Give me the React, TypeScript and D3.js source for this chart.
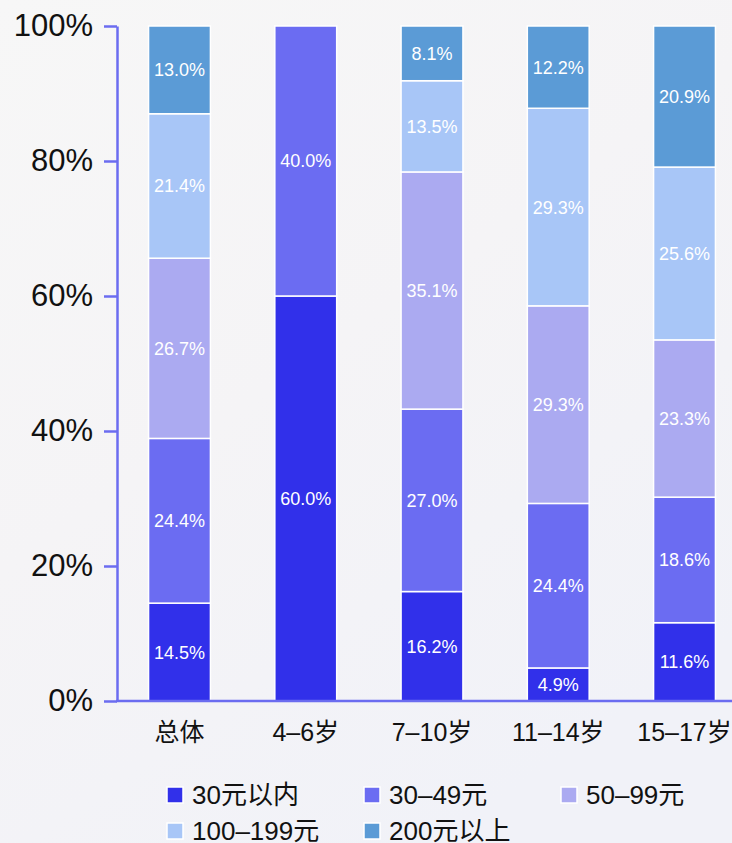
import React, { useEffect, useRef } from 'react';
import * as d3 from 'd3';

const categories = ['总体', '4–6岁', '7–10岁', '11–14岁', '15–17岁'];
const seriesNames = ['30元以内', '30–49元', '50–99元', '100–199元', '200元以上'];
const colors = ['#3130ea', '#6b6cf2', '#abaaf1', '#a8c6f7', '#5b9bd6'];

// one array per price band, in category order
const under30 = [14.5, 60.0, 16.2, 4.9, 11.6];
const from30to49 = [24.4, 40.0, 27.0, 24.4, 18.6];
const from50to99 = [26.7, 0, 35.1, 29.3, 23.3];
const from100to199 = [21.4, 0, 13.5, 29.3, 25.6];
const over200 = [13.0, 0, 8.1, 12.2, 20.9];

const yTicks = [0, 0.2, 0.4, 0.6, 0.8, 1];

const W = 732;
const H = 843;
const FONT = '"Liberation Sans", "Noto Sans CJK SC", sans-serif';

const App: React.FC = () => {
  const svgRef = useRef<SVGSVGElement>(null);

  useEffect(() => {
    const svg = d3.select(svgRef.current);
    svg.selectAll('*').remove();

    const seriesValues = [under30, from30to49, from50to99, from100to199, over200];
    const rows = categories.map((c, i) => {
      const r: any = { cat: c };
      seriesNames.forEach((s, j) => (r[s] = seriesValues[j][i]));
      return r;
    });

    const stacked = d3.stack<any>().keys(seriesNames).offset(d3.stackOffsetExpand)(rows);

    const x = d3.scaleBand().domain(categories).range([117, 747]).paddingInner(0.51).paddingOuter(0.25);
    const y = d3.scaleLinear().domain([0, 1]).range([701, 26]);

    // background
    const defs = svg.append('defs');
    const grad = defs.append('linearGradient').attr('id', 'bg').attr('x1', 0).attr('y1', 0).attr('x2', 0.6).attr('y2', 1);
    grad.append('stop').attr('offset', '0%').attr('stop-color', '#f7f7f7');
    grad.append('stop').attr('offset', '50%').attr('stop-color', '#f5f4f6');
    grad.append('stop').attr('offset', '100%').attr('stop-color', '#f1f2f8');
    svg.append('rect').attr('width', W).attr('height', H).attr('fill', 'url(#bg)');

    // bars
    const layer = svg.append('g');
    stacked.forEach((s, j) => {
      const g = layer.append('g');
      s.forEach((d, i) => {
        const v = seriesValues[j][i];
        if (!v) return;
        const x0 = x(categories[i])!;
        const yTop = y(d[1]);
        const yBot = y(d[0]);
        g.append('rect')
          .attr('x', x0)
          .attr('y', yTop)
          .attr('width', x.bandwidth())
          .attr('height', yBot - yTop)
          .attr('fill', colors[j])
          .attr('stroke', '#ffffff')
          .attr('stroke-width', 1.5);
        g.append('text')
          .attr('x', x0 + x.bandwidth() / 2)
          .attr('y', (yTop + yBot) / 2)
          .attr('dy', '0.36em')
          .attr('text-anchor', 'middle')
          .attr('fill', '#ffffff')
          .attr('font-family', FONT)
          .attr('font-size', 18)
          .text(v.toFixed(1) + '%');
      });
    });

    // y axis
    const yAxis = svg.append('g')
      .attr('transform', 'translate(117,0)')
      .call(d3.axisLeft(y).tickValues(yTicks).tickSize(13).tickSizeOuter(0).tickPadding(11).tickFormat(d3.format('.0%')));
    yAxis.selectAll('.domain, .tick line').attr('stroke', '#6b6cf0').attr('stroke-width', 2.5);
    yAxis.selectAll('text').attr('fill', '#111').attr('font-size', 31).attr('font-family', FONT);

    // x axis
    const xAxis = svg.append('g')
      .attr('transform', 'translate(0,701)')
      .call(d3.axisBottom(x).tickSize(0).tickPadding(22));
    xAxis.select('.domain').attr('d', 'M116,0H732').attr('stroke', '#6b6cf0').attr('stroke-width', 2.5);
    xAxis.selectAll('text').attr('fill', '#111').attr('font-size', 25).attr('font-family', FONT);

    // legend
    const legend = svg.append('g');
    seriesNames.forEach((s, j) => {
      const col = j % 3;
      const row = Math.floor(j / 3);
      const lx = 167 + col * 197;
      const ly = 795 + row * 36;
      legend.append('rect')
        .attr('x', lx)
        .attr('y', ly - 8)
        .attr('width', 16)
        .attr('height', 16)
        .attr('fill', colors[j])
        .attr('stroke', '#fff')
        .attr('stroke-width', 1.5);
      legend.append('text')
        .attr('x', lx + 25)
        .attr('y', ly)
        .attr('dy', '0.36em')
        .attr('fill', '#111')
        .attr('font-family', FONT)
        .attr('font-size', 26)
        .text(s);
    });
  }, []);

  return (
    <div style={{ position: 'fixed', left: 0, top: 0, width: W, height: H }}>
      <svg ref={svgRef} width={W} height={H}></svg>
    </div>
  );
};

export default App;
